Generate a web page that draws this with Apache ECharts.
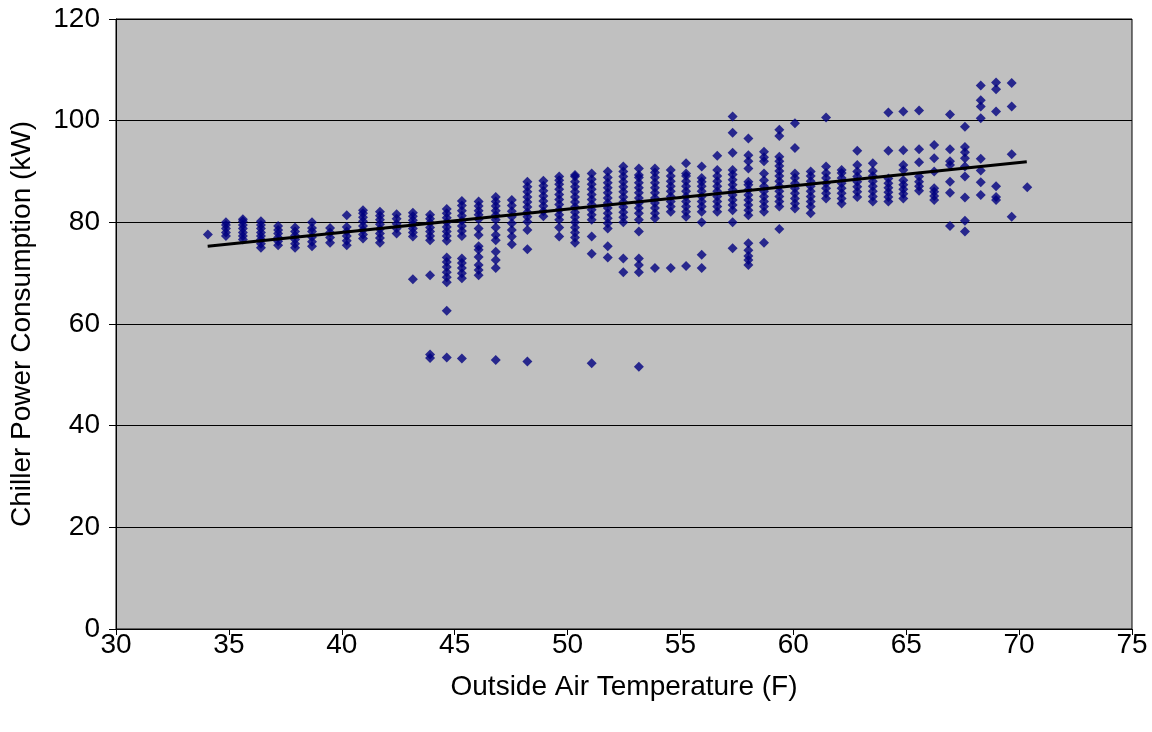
<!DOCTYPE html>
<html>
<head>
<meta charset="utf-8">
<script src="https://cdn.jsdelivr.net/npm/echarts@6/dist/echarts.min.js"></script>
<style>html,body{margin:0;padding:0;background:#fff}#c{width:1152px;height:732px}</style>
</head>
<body>
<div id="c"></div>
<script>
// Outside air temperature (F) of each column of readings
var temps = [34.07, 34.87, 35.62, 36.42, 37.18, 37.93, 38.68, 39.48, 40.22, 40.94,
  41.69, 42.43, 43.15, 43.91, 44.65, 45.32, 46.06, 46.82, 47.53, 48.22,
  48.93, 49.63, 50.33, 51.07, 51.78, 52.47, 53.16, 53.87, 54.57, 55.25,
  55.94, 56.63, 57.31, 58.01, 58.70, 59.38, 60.07, 60.77, 61.45, 62.14,
  62.83, 63.52, 64.21, 64.87, 65.57, 66.24, 66.94, 67.60, 68.30, 68.98,
  69.67, 70.36];

// Chiller power readings (kW) at each temperature
var power = [
  [77.6],
  [77.3, 78.0, 78.8, 79.5, 80.0],
  [76.6, 77.3, 78.0, 78.8, 79.5, 80.2, 80.6],
  [75.0, 75.8, 76.6, 77.3, 78.0, 78.8, 79.5, 80.2],
  [75.5, 76.3, 77.0, 77.8, 78.5, 79.3],
  [75.0, 75.8, 76.6, 77.4, 78.2, 79.0],
  [75.3, 76.2, 77.1, 78.2, 78.9, 80.0],
  [76.0, 77.0, 78.0, 78.9],
  [75.5, 76.4, 77.3, 78.2, 79.1, 81.4],
  [76.8, 77.6, 78.5, 79.3, 80.2, 81.0, 81.8, 82.4],
  [76.0, 76.9, 77.8, 78.7, 79.6, 80.5, 81.3, 82.1],
  [77.8, 78.8, 79.7, 80.7, 81.6],
  [68.8, 77.2, 78.0, 78.8, 79.6, 80.4, 81.2, 81.9],
  [53.3, 54.0, 69.6, 76.5, 77.3, 78.2, 79.0, 79.9, 80.7, 81.5],
  [53.4, 62.6, 68.2, 69.2, 70.2, 71.2, 72.2, 73.1, 76.4, 77.3, 78.2, 79.1, 80.0, 80.9, 81.8, 82.6],
  [53.2, 69.0, 70.0, 71.0, 72.0, 72.9, 77.3, 78.3, 79.3, 80.3, 81.3, 82.3, 83.3, 84.2],
  [69.6, 70.6, 71.6, 73.2, 74.6, 75.3, 77.5, 78.8, 80.6, 81.5, 82.3, 83.2, 84.1],
  [52.9, 71.0, 72.6, 74.2, 76.5, 77.5, 79.0, 80.5, 81.4, 82.3, 83.2, 84.1, 85.0],
  [75.7, 77.2, 78.5, 79.8, 81.1, 82.2, 83.3, 84.4],
  [52.6, 74.7, 78.5, 80.1, 81.1, 82.0, 83.0, 84.0, 85.0, 86.0, 87.0, 88.0],
  [81.2, 82.2, 83.2, 84.2, 85.2, 86.2, 87.2, 88.2],
  [77.2, 79.0, 80.5, 81.5, 82.5, 83.5, 84.5, 85.5, 86.5, 87.5, 88.3, 89.0],
  [76.0, 77.0, 78.0, 79.0, 80.0, 81.0, 82.0, 83.0, 84.0, 85.0, 86.0, 87.0, 88.0, 89.0, 89.3],
  [52.3, 73.8, 77.2, 80.5, 81.5, 82.5, 83.5, 84.5, 85.5, 86.5, 87.5, 88.5, 89.6],
  [73.1, 75.3, 78.8, 79.8, 80.8, 81.8, 82.8, 83.8, 84.8, 85.8, 86.8, 87.8, 88.8, 90.0],
  [70.2, 72.9, 80.0, 81.0, 82.0, 83.0, 84.0, 85.0, 86.0, 87.0, 88.0, 89.0, 90.0, 91.0],
  [51.6, 70.2, 71.6, 72.9, 78.2, 80.5, 81.8, 82.8, 83.8, 84.8, 85.8, 86.8, 87.8, 88.8, 89.3, 90.6],
  [71.0, 80.8, 81.8, 82.8, 83.8, 84.8, 85.8, 86.8, 87.8, 88.8, 89.8, 90.6],
  [71.0, 82.1, 83.1, 84.1, 85.1, 86.1, 87.1, 88.1, 89.1, 90.3],
  [71.4, 81.1, 82.1, 83.1, 84.1, 85.1, 86.1, 87.1, 88.1, 89.1, 89.6, 91.6],
  [71.0, 73.6, 80.0, 82.1, 83.1, 84.1, 85.1, 86.1, 87.1, 88.0, 88.7, 91.0],
  [82.1, 83.1, 84.1, 85.1, 86.1, 87.1, 88.1, 89.1, 90.3, 93.1],
  [74.9, 80.0, 82.4, 83.4, 84.4, 85.4, 86.4, 87.4, 88.4, 89.4, 90.3, 93.7, 97.6, 100.8],
  [71.6, 72.6, 73.4, 74.5, 75.9, 81.4, 82.4, 83.4, 84.4, 85.4, 86.4, 87.4, 88.0, 90.6, 92.0, 93.2, 96.5],
  [76.0, 82.1, 83.1, 84.1, 85.1, 86.1, 87.1, 88.3, 89.6, 92.0, 92.8, 93.9],
  [78.7, 83.1, 84.1, 85.1, 86.1, 87.1, 88.1, 89.1, 90.1, 91.1, 92.0, 92.9, 97.0, 98.2],
  [82.7, 83.7, 84.7, 85.7, 86.7, 87.7, 88.7, 89.6, 94.6, 99.5],
  [81.8, 83.1, 84.1, 85.1, 86.1, 87.1, 88.1, 89.1, 90.0],
  [84.7, 85.7, 86.7, 87.7, 88.7, 89.7, 91.0, 100.6],
  [83.7, 84.7, 85.7, 86.7, 87.7, 88.7, 89.7, 90.3],
  [85.0, 86.0, 87.0, 88.0, 89.0, 90.0, 91.3, 94.1],
  [84.1, 85.1, 86.1, 87.1, 88.1, 89.1, 90.1, 91.6],
  [84.1, 85.0, 85.9, 86.8, 87.7, 88.6, 94.1, 101.6],
  [84.7, 85.6, 86.5, 87.4, 88.3, 90.3, 91.3, 94.2, 101.8],
  [86.2, 87.1, 88.0, 89.0, 91.8, 94.4, 102.0],
  [84.4, 85.2, 86.0, 86.7, 90.0, 92.6, 95.2],
  [79.3, 85.8, 88.0, 91.3, 92.0, 94.4, 101.2],
  [78.2, 80.3, 84.9, 89.0, 91.0, 92.6, 93.8, 94.8, 98.8],
  [85.4, 87.9, 90.2, 92.5, 100.5, 102.8, 104.0, 106.9],
  [84.4, 85.0, 87.1, 101.8, 106.2, 107.5],
  [81.1, 93.4, 102.8, 107.4],
  [86.9]
];

// Linear trend line end points
var trendX = [34.06, 70.34];
var trendY = [75.3, 91.9];

var xTicks = { min: 30, max: 75, step: 5 };
var yTicks = { min: 0, max: 120, step: 20 };

var pts = [];
for (var i = 0; i < temps.length; i++) {
  for (var j = 0; j < power[i].length; j++) pts.push([temps[i], power[i][j]]);
}
var trend = trendX.map(function (x, k) { return [x, trendY[k]]; });

var font = '"Liberation Sans", Arial, sans-serif';
var chart = echarts.init(document.getElementById('c'));
chart.setOption({
  animation: false,
  backgroundColor: '#ffffff',
  grid: { left: 116, right: 20, top: 19, bottom: 103, show: true,
    backgroundColor: '#C0C0C0', borderColor: '#000', borderWidth: 1 },
  xAxis: {
    type: 'value', min: xTicks.min, max: xTicks.max, interval: xTicks.step,
    name: 'Outside Air Temperature (F)', nameLocation: 'middle', nameGap: 44,
    nameTextStyle: { fontFamily: font, fontSize: 28, color: '#000' },
    axisLine: { show: true, onZero: false, lineStyle: { color: '#000', width: 1 } },
    axisTick: { show: true, inside: false, length: 6, lineStyle: { color: '#000' } },
    axisLabel: { fontFamily: font, fontSize: 28, color: '#000', margin: 2 },
    splitLine: { show: false }
  },
  yAxis: {
    type: 'value', min: yTicks.min, max: yTicks.max, interval: yTicks.step,
    name: 'Chiller Power Consumption (kW)', nameLocation: 'middle', nameGap: 80,
    nameTextStyle: { fontFamily: font, fontSize: 28, color: '#000' },
    axisLine: { show: true, lineStyle: { color: '#000', width: 1 } },
    axisTick: { show: true, inside: false, length: 7, lineStyle: { color: '#000' } },
    axisLabel: { fontFamily: font, fontSize: 28, color: '#000', margin: 16 },
    splitLine: { show: true, lineStyle: { color: '#000', width: 1 } }
  },
  series: [
    { type: 'scatter', data: pts, symbol: 'diamond', symbolSize: 10,
      itemStyle: { color: '#000080' }, z: 2 },
    { type: 'line', data: trend, symbol: 'none', lineStyle: { color: '#000', width: 3 }, z: 3 }
  ]
});
</script>
</body>
</html>
